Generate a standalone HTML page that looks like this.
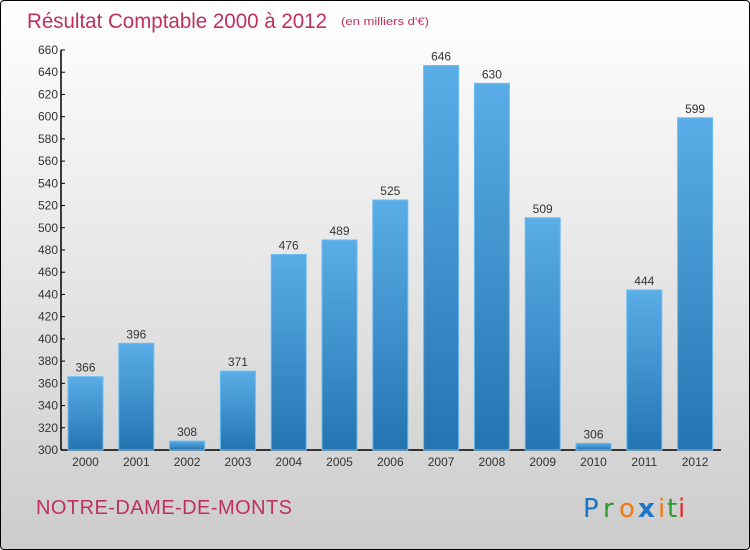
<!DOCTYPE html>
<html><head><meta charset="utf-8"><style>
html,body{margin:0;padding:0}
body{width:750px;height:550px;overflow:hidden;font-family:"Liberation Sans",sans-serif}
#frame{position:absolute;left:0;top:0;width:748px;height:548px;border:1px solid #000;border-radius:4px;background:linear-gradient(#ffffff,#f0f0f0 30%,#cccccc)}
</style></head><body>
<div id="frame">
<svg width="750" height="550" style="position:absolute;left:-1px;top:-1px" id="chart">
<defs><linearGradient id="bg" x1="0" y1="0" x2="0" y2="1"><stop offset="0" stop-color="#5aade6"/><stop offset="1" stop-color="#2574b2"/></linearGradient></defs>
<text x="27" y="28" font-size="21" fill="#c0305f" textLength="300" lengthAdjust="spacingAndGlyphs">Résultat Comptable 2000 à 2012</text>
<text x="341" y="25" font-size="11" fill="#c0305f" textLength="88" lengthAdjust="spacingAndGlyphs">(en milliers d'€)</text>
<text x="36" y="514" font-size="20" fill="#c0305f" textLength="256">NOTRE-DAME-DE-MONTS</text>
<g font-size="26" font-family="'DejaVu Sans',sans-serif">
<text x="583" y="517" fill="#1a75c8">P</text><text x="603" y="517" fill="#2e9a2e">r</text><text x="619" y="517" fill="#f07a10">o</text><text x="638" y="517" fill="#1a75c8" font-weight="bold">x</text><text x="658" y="517" fill="#f07a10">i</text><text x="667" y="517" fill="#2e9a2e">t</text><text x="678" y="517" fill="#e03030">i</text>
</g>
<g id="plot"></g>
</svg>
</div>
<script>
const years=["2000","2001","2002","2003","2004","2005","2006","2007","2008","2009","2010","2011","2012"];
const values=[366,396,308,371,476,489,525,646,630,509,306,444,599];
const yTicks=[300,320,340,360,380,400,420,440,460,480,500,520,540,560,580,600,620,640,660];
const NS="http://www.w3.org/2000/svg";
const g=document.getElementById('plot');
const y=v=>450-(v-300)*400/360;
const x=i=>85.5+i*50.8;
function mk(t,a){const e=document.createElementNS(NS,t);for(const k in a)e.setAttribute(k,a[k]);g.appendChild(e);return e;}
let ax=mk('line',{x1:61,y1:50,x2:61,y2:450,stroke:'#000','stroke-width':1.5});


let bx=mk('line',{x1:61,y1:450,x2:721,y2:450,stroke:'#000','stroke-width':1.5});


yTicks.forEach(t=>{
 const tk=mk('line',{x1:61,y1:y(t),x2:65,y2:y(t),stroke:'#000'});
 
 
 const tl=mk('text',{x:58,y:y(t)+4,'font-size':12,fill:'#333','text-anchor':'end'});
 tl.textContent=t;
 
 
});
values.forEach((v,i)=>{
 const b=mk('rect',{x:x(i)-17.5,y:y(v),width:35,height:450-y(v),fill:'url(#bg)',stroke:'#6bbcf0','stroke-width':1});
 
 
 const l=mk('text',{x:x(i),y:y(v)-5,'font-size':12,fill:'#333','text-anchor':'middle'});
 l.textContent=v;
 
 
 const xl=mk('text',{x:x(i),y:466,'font-size':12,fill:'#333','text-anchor':'middle'});
 xl.textContent=years[i];
 
 
});
</script>
</body></html>
